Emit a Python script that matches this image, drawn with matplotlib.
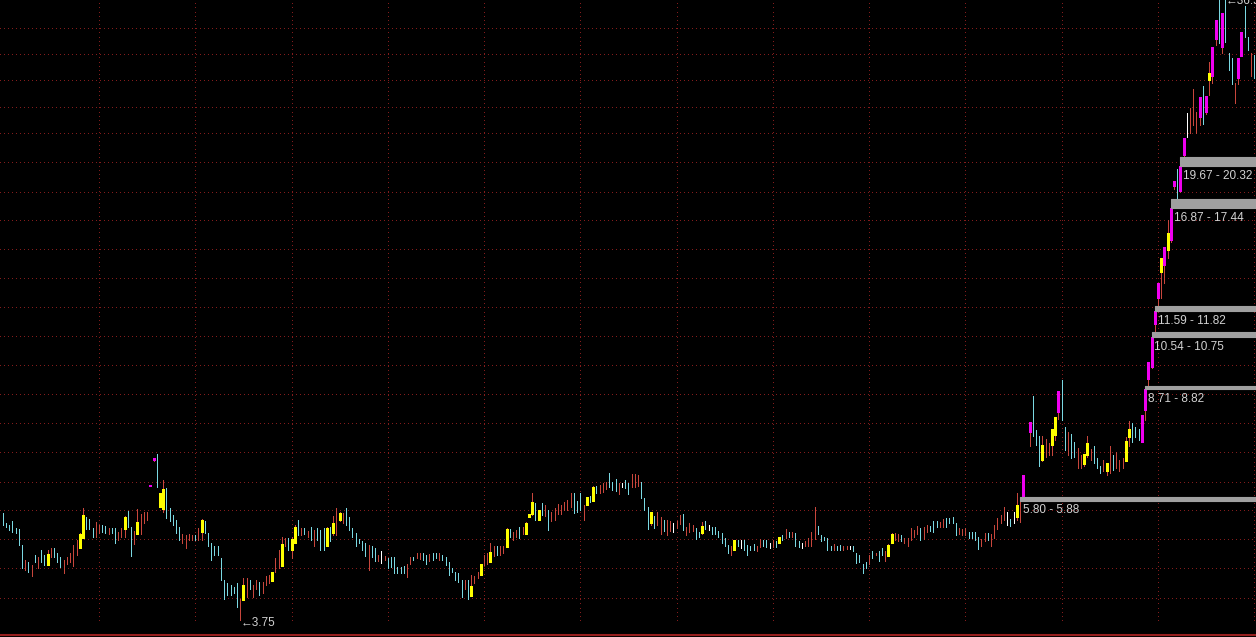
import numpy as np
import matplotlib
matplotlib.use("Agg")
import matplotlib.pyplot as plt

# candle data (oldest -> newest), log price chart
highs = [
    5.55, 5.35, 5.31, 5.38, 5.25, 5.23, 4.94, 4.67, 4.64, 4.59,
    4.76, 4.73, 4.85, 4.76, 4.85, 4.88, 4.88, 4.79, 4.73, 4.67,
    4.73, 4.79, 4.94, 5.03, 5.15, 5.64, 5.46, 5.43, 5.25, 5.37,
    5.31, 5.31, 5.29, 5.25, 5.25, 5.25, 5.18, 5.25, 5.48, 5.59,
    5.28, 5.20, 5.62, 5.52, 5.57, 5.57, 6.15, 6.78, 6.88, 5.97,
    6.26, 6.07, 5.64, 5.51, 5.41, 5.28, 5.13, 5.12, 5.14, 5.12,
    5.12, 5.25, 5.42, 5.38, 5.15, 4.97, 4.92, 4.92, 4.70, 4.34,
    4.29, 4.26, 4.24, 4.29, 4.06, 4.37, 4.37, 4.34, 4.26, 4.34,
    4.31, 4.31, 4.40, 4.42, 4.48, 4.70, 4.85, 5.09, 5.06, 5.06,
    5.09, 5.31, 5.41, 5.25, 5.25, 5.20, 5.28, 5.21, 5.25, 5.21,
    5.25, 5.28, 5.28, 5.48, 5.64, 5.57, 5.55, 5.64,
    5.46, 5.25, 5.15, 5.04, 5.00, 4.97, 4.94, 4.91, 4.88, 4.76,
    4.83, 4.74, 4.70, 4.72, 4.73, 4.56, 4.56, 4.57, 4.60, 4.73,
    4.73, 4.79, 4.80, 4.79, 4.76, 4.78, 4.79, 4.80, 4.79, 4.76,
    4.73, 4.64, 4.54, 4.47, 4.45, 4.34, 4.34, 4.34, 4.43, 4.41,
    4.47, 4.61, 4.76, 4.79, 4.97, 4.91, 4.91, 4.91, 4.92, 5.25,
    5.23, 5.18, 5.21, 5.28, 5.28, 5.36, 5.53, 5.97, 5.75, 5.61,
    5.75, 5.71, 5.61, 5.57, 5.64, 5.73, 5.71, 5.78, 5.82, 5.96,
    5.97, 5.80, 5.96, 5.71, 5.87, 5.90, 6.12, 6.12, 6.14, 6.18,
    6.22, 6.43, 6.22, 6.27, 6.19, 6.18, 6.26, 6.19, 6.39, 6.40,
    6.37, 6.22, 5.85, 5.68, 5.57, 5.48, 5.57, 5.47, 5.40, 5.41,
    5.38, 5.34, 5.38,
    5.51, 5.52, 5.28, 5.35, 5.31, 5.25, 5.18, 5.36, 5.38, 5.31,
    5.28, 5.28, 5.20, 5.16, 5.07, 4.94, 4.92, 5.03, 5.02, 5.03,
    5.02, 4.94, 4.92, 4.95, 4.92, 5.04, 5.02, 5.02, 4.98, 5.03,
    5.00, 5.09, 5.12, 5.23, 5.18, 5.18, 5.15, 5.00, 4.98, 5.00,
    5.07, 5.18, 5.68, 5.29, 5.11, 5.09, 5.06, 4.92, 4.95, 4.92,
    4.94, 4.92, 4.91, 4.92, 4.91, 4.79, 4.76, 4.61, 4.64, 4.76,
    4.82, 4.80, 4.82, 4.88, 4.82, 4.95, 5.16, 5.16, 5.14, 5.11,
    5.07, 5.07, 5.25, 5.21, 5.29, 5.25, 5.28, 5.31, 5.29, 5.38,
    5.38, 5.36, 5.42, 5.44, 5.44, 5.46, 5.35, 5.25, 5.23, 5.25,
    5.18, 5.18, 5.18, 5.09, 5.04, 5.15, 5.15, 5.14, 5.31, 5.44,
    5.51, 5.68, 5.57, 5.42, 5.57, 5.96,
    5.80, 6.37, 7.04, 7.73, 8.50, 7.52, 7.34, 7.34, 7.28, 7.15,
    7.55, 7.87, 8.67, 9.02, 7.60, 7.45, 7.41, 7.19, 7.04, 6.85,
    6.87, 7.34, 7.00, 7.08, 6.77, 6.59, 6.73, 6.66, 7.08, 6.85,
    6.94, 6.73, 6.77, 7.33, 7.75, 7.69, 7.60, 7.55, 7.93, 8.71,
    9.62, 10.54, 11.59, 12.86, 14.08, 14.66, 16.16, 16.87, 18.60, 19.45,
    19.67, 21.80, 23.88, 24.32, 26.06, 23.97, 25.31, 26.35, 25.41, 28.80,
    30.41, 33.53, 36.30, 34.36, 36.53, 29.76, 29.16, 26.62, 29.16, 32.13,
    35.29, 31.48, 29.69, 29.51,
]

lows = [
    5.31, 5.28, 5.21, 5.18, 5.16, 4.94, 4.53, 4.51, 4.47, 4.41,
    4.64, 4.53, 4.64, 4.59, 4.59, 4.73, 4.72, 4.64, 4.56, 4.45,
    4.60, 4.64, 4.57, 4.76, 4.88, 5.06, 5.23, 5.23, 5.09, 5.09,
    5.15, 5.18, 5.16, 5.14, 5.15, 4.98, 5.03, 5.09, 5.09, 5.28,
    4.74, 4.96, 5.14, 5.14, 5.35, 5.41, 6.13, 6.70, 6.11, 5.68,
    5.57, 5.44, 5.38, 5.31, 5.15, 5.03, 4.98, 4.88, 5.03, 5.03,
    5.03, 5.03, 5.03, 5.15, 4.91, 4.67, 4.76, 4.76, 4.34, 4.06,
    4.11, 4.11, 4.14, 3.94, 3.75, 4.04, 4.08, 4.21, 4.08, 4.21,
    4.11, 4.14, 4.26, 4.29, 4.33, 4.47, 4.53, 4.57, 4.91, 4.85,
    4.70, 4.97, 5.12, 5.11, 5.14, 5.09, 5.03, 4.91, 5.03, 4.85,
    4.85, 4.91, 5.00, 5.12, 5.12, 5.38, 5.35, 5.31,
    5.21, 5.09, 4.92, 4.97, 4.84, 4.74, 4.50, 4.73, 4.66, 4.66,
    4.62, 4.67, 4.53, 4.56, 4.45, 4.45, 4.45, 4.45, 4.39, 4.61,
    4.68, 4.70, 4.69, 4.67, 4.61, 4.66, 4.68, 4.70, 4.68, 4.67,
    4.59, 4.42, 4.47, 4.35, 4.31, 4.08, 4.21, 4.06, 4.10, 4.29,
    4.37, 4.43, 4.59, 4.60, 4.64, 4.74, 4.76, 4.76, 4.79, 4.90,
    5.09, 5.03, 5.09, 5.07, 5.14, 5.14, 5.46, 5.51, 5.41, 5.40,
    5.51, 5.48, 5.21, 5.38, 5.41, 5.53, 5.52, 5.60, 5.61, 5.68,
    5.55, 5.57, 5.61, 5.41, 5.71, 5.78, 5.80, 5.96, 5.97, 5.99,
    6.05, 6.10, 6.03, 6.02, 5.94, 6.10, 6.07, 5.94, 6.11, 6.11,
    6.12, 5.85, 5.60, 5.23, 5.31, 5.25, 5.31, 5.14, 5.20, 5.11,
    5.20, 5.18, 5.25,
    5.33, 5.21, 5.11, 5.18, 5.20, 5.04, 5.09, 5.14, 5.23, 5.21,
    5.14, 5.14, 5.09, 4.98, 4.92, 4.80, 4.76, 4.85, 4.91, 4.88,
    4.85, 4.76, 4.84, 4.84, 4.82, 4.90, 4.92, 4.90, 4.88, 4.90,
    4.90, 4.97, 5.03, 5.07, 5.09, 5.09, 4.92, 4.90, 4.88, 4.91,
    4.92, 4.92, 5.04, 5.14, 5.00, 5.02, 4.84, 4.84, 4.85, 4.85,
    4.85, 4.85, 4.87, 4.87, 4.82, 4.62, 4.64, 4.45, 4.54, 4.60,
    4.70, 4.76, 4.66, 4.76, 4.66, 4.74, 4.98, 5.03, 5.00, 5.00,
    4.98, 4.91, 5.03, 5.09, 5.14, 5.03, 5.04, 5.18, 5.20, 5.18,
    5.28, 5.28, 5.28, 5.28, 5.35, 5.35, 5.12, 5.14, 5.12, 5.12,
    5.07, 5.06, 5.02, 4.87, 4.92, 5.00, 5.02, 4.92, 5.07, 5.23,
    5.35, 5.41, 5.31, 5.29, 5.34, 5.41,
    5.36, 5.88, 7.02, 7.08, 7.34, 7.11, 6.59, 6.70, 6.81, 6.85,
    6.85, 7.24, 7.82, 7.80, 6.98, 6.85, 6.77, 6.81, 6.53, 6.53,
    6.59, 6.81, 6.73, 6.65, 6.53, 6.42, 6.46, 6.37, 6.42, 6.49,
    6.53, 6.46, 6.53, 6.71, 7.08, 7.19, 7.31, 7.24, 7.19, 7.80,
    8.82, 9.40, 10.75, 11.82, 12.16, 12.84, 14.08, 14.90, 18.10, 17.51,
    17.90, 20.32, 21.88, 22.20, 22.85, 22.20, 22.85, 22.94, 23.80, 25.50,
    26.60, 30.61, 30.79, 29.76, 30.98, 27.94, 26.55, 24.74, 26.55, 29.41,
    31.55, 30.06, 27.34, 27.11,
]

# r = up, c = down, w = flat, y / m = highlighted candles with a body
kinds = (
    "cccccccrcr" "crccyrcccr" "rrrryycccr" "rccrccrryc" "cryrrrmmcy"
    "ycccccrrrr" "cryccccccc" "ccccryrcrr" "crrryrryrc" "yycrcrcrcc"
    "cycyryrc"
    "ccccccrccr" "wrccccccrr" "crrccrccrc" "ccccccrcyr" "ryrryrcrry"
    "crrcryyycy" "crcrrrrrrr" "cccrycycrr" "rcccrwccrr" "rcccycrrcr"
    "rwr"
    "rcrrrccycw" "ccccccrycw" "ccccrrccwr" "cycrcrccwr" "rrrcccccrc"
    "crrwcccccr" "crccryyrrc" "rrrrrcrrcc" "crrccccrrr" "ccccrrcrrr"
    "rrwcwy"
    "rmmmcccyrr" "yymccrccrr" "yyrcccryrc" "rrryycccmm" "mmmmymymmc"
    "mmwrrrmcmy" "mmcmcccrmm" "ccrc"
)

# body top / bottom of the y and m candles, in order of appearance
body_top = [
    4.78, 5.14, 5.51, 5.47, 5.36, 6.15, 6.78, 5.97, 6.05, 5.41,
    4.26, 4.48, 4.95, 5.05, 5.28, 5.25, 5.35, 5.55,
    4.25, 4.61, 4.81, 5.23, 5.34, 5.53, 5.78, 5.61, 5.87, 6.10, 5.57,
    5.29, 5.02, 5.09, 4.94, 5.14, 5.71,
    6.37, 7.04, 7.73, 7.11, 7.55, 7.87, 8.67, 6.87, 7.15, 6.66,
    7.21, 7.55, 7.93, 8.71, 9.62, 10.54, 11.59, 12.86, 14.08, 14.66,
    15.40, 16.87, 18.60, 19.67, 21.80, 25.31, 25.41, 27.66, 30.41, 33.53,
    34.36, 29.16, 32.13,
]
body_bot = [
    4.59, 4.89, 5.07, 5.24, 5.14, 6.13, 6.72, 5.68, 5.63, 5.18,
    4.04, 4.33, 4.57, 4.84, 4.97, 4.91, 5.16, 5.41,
    4.10, 4.43, 4.64, 4.90, 5.14, 5.46, 5.52, 5.40, 5.71, 5.80, 5.35,
    5.15, 4.85, 4.98, 4.74, 4.98, 5.46,
    5.88, 7.02, 7.45, 6.73, 7.11, 7.37, 8.03, 6.63, 6.85, 6.46,
    6.71, 7.31, 7.19, 8.08, 9.05, 9.45, 11.05, 12.16, 13.35, 13.72,
    14.50, 15.02, 18.30, 17.95, 20.49, 23.53, 24.00, 26.94, 27.31, 31.25,
    30.35, 27.11, 29.41,
]

# price gaps marked with grey bands
gap_start = [317, 356, 358, 359, 364, 367]
gap_low = [5.80, 8.71, 10.54, 11.59, 16.87, 19.67]
gap_high = [5.88, 8.82, 10.75, 11.82, 17.44, 20.32]

# extreme price labels
low_idx, low_val = 74, 3.75
high_idx, high_val = 381, 36.53

# horizontal grid levels
grid_levels = [32.41, 29.51, 26.84, 24.29, 22.10, 19.88, 17.85, 16.10, 14.49,
               13.01, 11.71, 10.53, 9.47, 8.52, 7.67, 6.90, 6.20, 5.59, 5.03,
               4.52, 4.06]

colors = {"r": "#c8463c", "c": "#7ad8e2", "w": "#ffffff",
          "y": "#ffff00", "m": "#f000f0"}
grid_col = "#841c1c"

n = len(highs)
x0, x1 = -0.84, 390.56
y0, y1 = 3.528, 36.07
fig = plt.figure(figsize=(12.56, 6.37), dpi=100, facecolor="black")
ax = fig.add_axes([0, 0, 1, 1])
ax.set_facecolor("black")
ax.set_yscale("log")
ax.set_xlim(x0, x1)
ax.set_ylim(y0, y1)
for s in ax.spines.values():
    s.set_visible(False)
ax.set_xticks([])
ax.set_yticks([])
ax.minorticks_off()

# dotted grid, one pixel dot every ~4 px
dot_x = np.arange(x0, x1, 4 / 3.209)
for lv in grid_levels:
    ax.plot(dot_x, np.full(len(dot_x), lv), ls="none", marker=",", color=grid_col, zorder=0)
dot_y = np.geomspace(3.74, y1, 150)
for gx in range(30, n, 30):
    ax.plot(np.full(len(dot_y), gx), dot_y, ls="none", marker=",", color=grid_col, zorder=0)
ax.axhline(3.553, color="#961e1e", lw=1.5, zorder=1)

# candles: thin high-low line, plus a wide body for highlighted ones
b = 0
for i in range(n):
    k = kinds[i] if i < len(kinds) else "c"
    wick = colors["r"] if k in "ym" else colors[k]
    ax.vlines(i, lows[i], highs[i], color=wick, lw=0.6, antialiased=False, zorder=2)
    if k in "ym" and b < len(body_top):
        ax.vlines(i, body_bot[b], body_top[b], color=colors[k], lw=2.1,
                  antialiased=False, zorder=3)
        b += 1

# gap bands with labels
txt = dict(color="#d2d2d2", fontsize=8.5, family=["Liberation Sans", "DejaVu Sans"])
for s0, lo, hi in zip(gap_start, gap_low, gap_high):
    ax.fill_between([s0, 391], lo, hi, color="#a0a0a0", lw=0.8, ec="#a0a0a0", zorder=4)
    ax.annotate(f"{lo:.2f} - {hi:.2f}", (s0, lo), xytext=(2.0, -6.9),
                textcoords="offset points", ha="left", va="center", **txt)

ax.annotate(f"\u2190{low_val:.2f}", (low_idx, low_val), xytext=(0, -1.7),
            textcoords="offset points", ha="left", va="center", **txt)
ax.annotate(f"\u2190{high_val:.2f}", (high_idx, high_val), xytext=(0, -3.2),
            textcoords="offset points", ha="left", va="center",
            annotation_clip=False, **txt)

fig.savefig("out.png", dpi=100, facecolor="black")
